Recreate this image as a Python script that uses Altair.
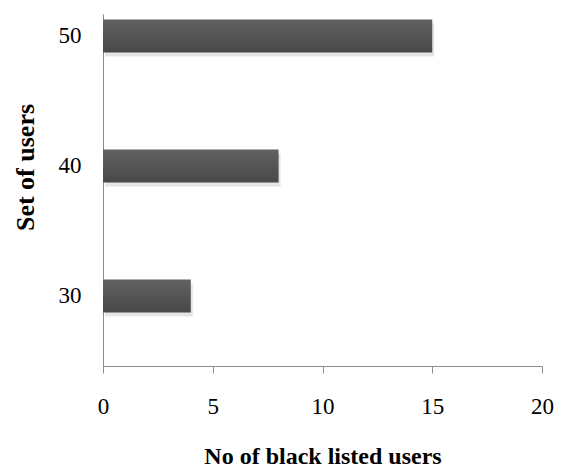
import altair as alt
import pandas as pd

sets = [30, 40, 50]
blacklisted = [4, 8, 15]
x_ticks = [0, 5, 10, 15, 20]

df = pd.DataFrame({"set": sets, "value": blacklisted})

FONT = "Liberation Serif"

x_enc = alt.X(
    "value:Q",
    scale=alt.Scale(domain=[0, 20], nice=False, zero=True),
    axis=alt.Axis(
        values=x_ticks,
        title="No of black listed users",
        titleFont=FONT, titleFontSize=24, titleFontWeight="bold", titleColor="black",
        titleX=219.5, titleY=97, titleBaseline="alphabetic", titleAlign="center",
        labelFont=FONT, labelFontSize=23, labelColor="black", labelPadding=22,
        domainColor="#8c8c8c", tickColor="#8c8c8c", tickSize=7, grid=False,
        labelFlush=False,
    ),
)
y_enc = alt.Y(
    "set:Q",
    scale=alt.Scale(domain=[25, 51.3], nice=False, zero=False),
    axis=alt.Axis(
        values=sets,
        title="Set of users",
        titleFont=FONT, titleFontSize=26, titleFontWeight="bold", titleColor="black",
        titleAngle=270, titleX=-78, titleY=153, titleAlign="center", titleBaseline="middle",
        labelFont=FONT, labelFontSize=23, labelColor="black", labelPadding=22,
        ticks=False, domainColor="#8c8c8c", grid=False, labelFlush=False,
    ),
)

shadow = alt.Chart(df).mark_bar(
    orient="horizontal", size=33, color="#b5b5b5", opacity=0.35, xOffset=2, yOffset=4
).encode(x=x_enc, y=y_enc)

bars = alt.Chart(df).mark_bar(
    orient="horizontal", size=33,
    color=alt.Gradient(
        gradient="linear", x1=0, x2=0, y1=0, y2=1,
        stops=[alt.GradientStop(color="#626262", offset=0),
               alt.GradientStop(color="#484848", offset=1)],
    ),
).encode(x=x_enc, y=y_enc)

chart = (shadow + bars).properties(
    width=439, height=352,
    background="white",
    autosize=alt.AutoSizeParams(type="none"),
    padding={"left": 103, "top": 14, "right": 28, "bottom": 101},
).configure_view(strokeWidth=0, stroke="transparent")

chart.save("out.html", embed_options={"renderer": "svg", "actions": False})
